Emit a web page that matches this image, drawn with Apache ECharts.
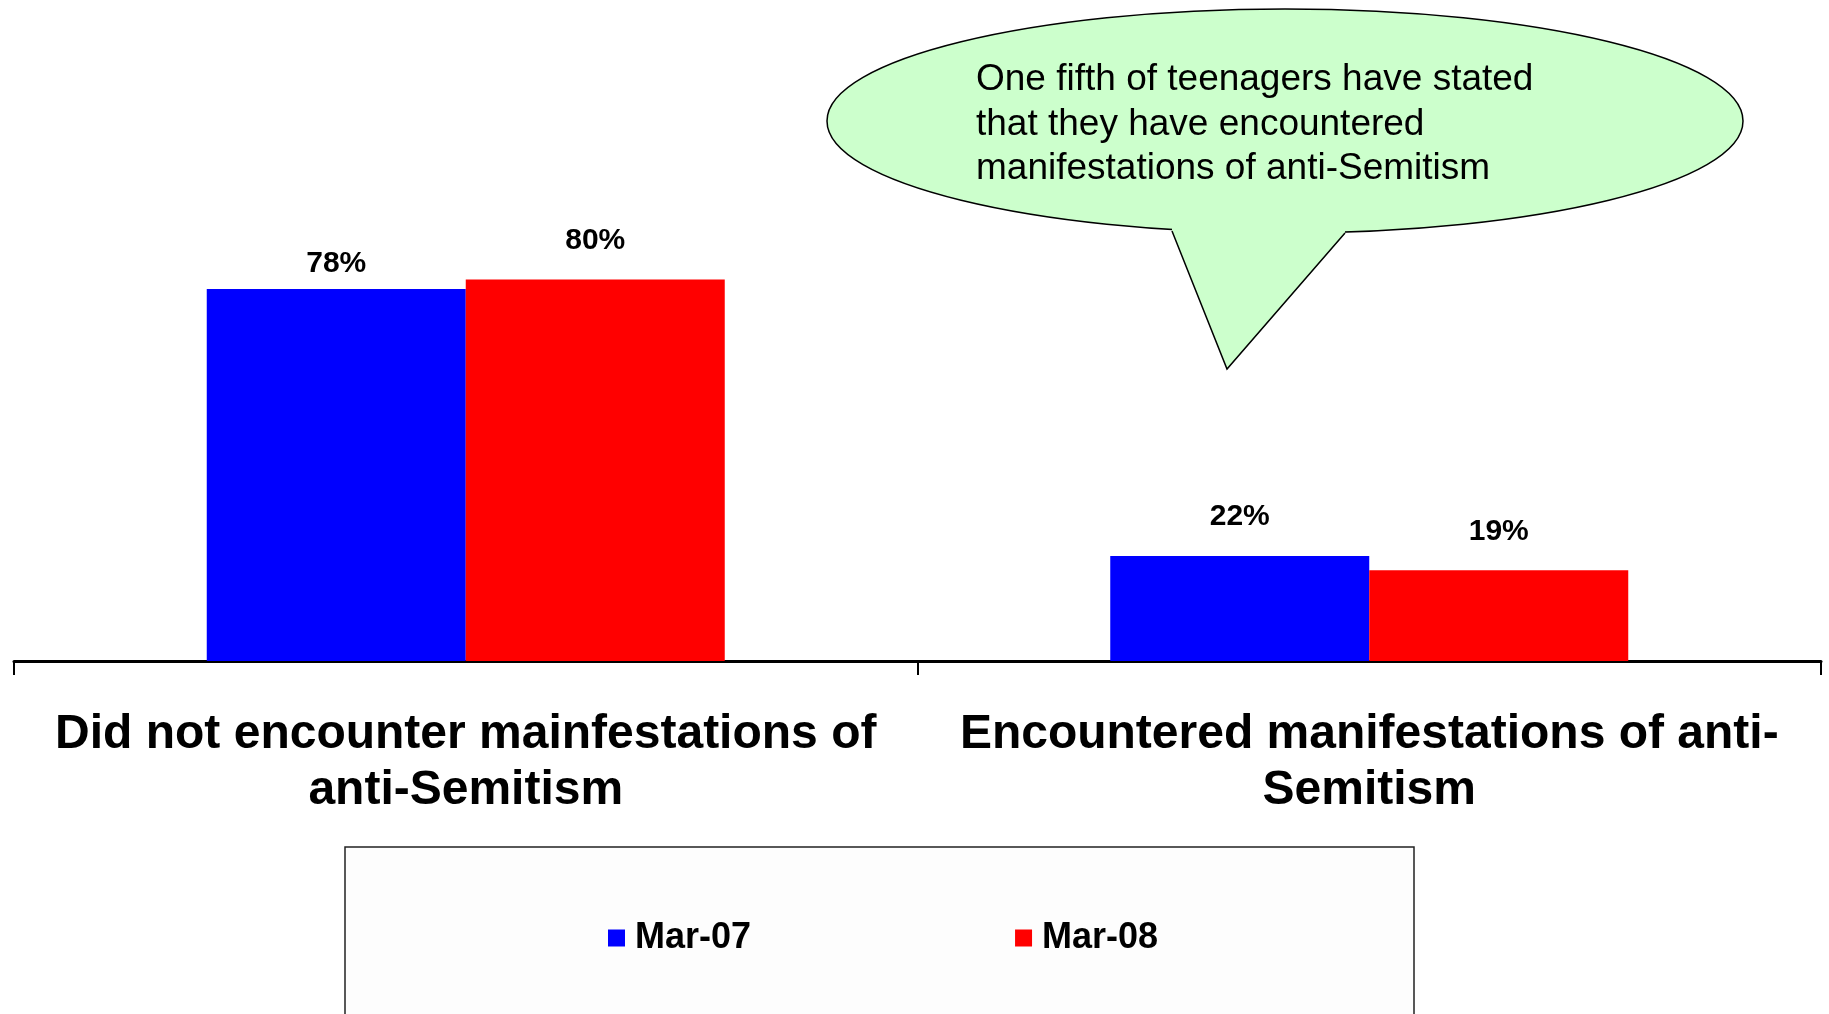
<!DOCTYPE html>
<html>
<head>
    <meta charset="utf-8">
    <title>ECharts</title>
    <script src="https://cdn.jsdelivr.net/npm/echarts@6/dist/echarts.min.js"></script>
    <style>
        html, body { margin: 0; padding: 0; background: #fff; }
        #main { width: 1829px; height: 1014px; }
    </style>
</head>
<body>
    <div id="main"></div>
    <script type="text/javascript">
        // data
        var categories = [
            'Did not encounter mainfestations of\nanti-Semitism',
            'Encountered manifestations of anti-\nSemitism'
        ];
        var seriesNames = ['Mar-07', 'Mar-08'];
        var mar07 = [78, 22];
        var mar08 = [80, 19];
        var calloutText = 'One fifth of teenagers have stated\nthat they have encountered\nmanifestations of anti-Semitism';

        var font = '"Liberation Sans", Arial, sans-serif';
        var myChart = echarts.init(document.getElementById('main'));

        // gap between bar top and its label, the first blue one sits lower
        function labelGap(seriesIdx, i) {
            return (seriesIdx === 0 && i === 0) ? 10 : 24;
        }

        function barSeries(idx, values, color) {
            return {
                name: seriesNames[idx],
                type: 'bar',
                data: values.map(function (v, i) {
                    return { value: v, label: { distance: labelGap(idx, i) } };
                }),
                barWidth: 259,
                barGap: '0%',
                itemStyle: { color: color },
                label: {
                    show: true,
                    position: 'top',
                    formatter: '{c}%',
                    color: '#000',
                    fontFamily: font,
                    fontWeight: 'bold',
                    fontSize: 30
                }
            };
        }

        myChart.setOption({
            animation: false,
            backgroundColor: '#fff',
            grid: { left: 14, right: 8, top: 184, bottom: 353, containLabel: false },
            legend: {
                data: seriesNames,
                left: 603,
                top: 915,
                itemWidth: 17,
                itemHeight: 17,
                itemGap: 264,
                icon: 'rect',
                textStyle: {
                    fontFamily: font,
                    fontWeight: 'bold',
                    fontSize: 36,
                    color: '#000',
                    lineHeight: 36,
                    padding: [0, 0, 0, 5]
                }
            },
            xAxis: {
                type: 'category',
                data: categories,
                axisLine: { lineStyle: { color: '#000', width: 3 } },
                axisTick: { show: true, length: 14, lineStyle: { color: '#000', width: 2 } },
                axisLabel: {
                    interval: 0,
                    margin: 46,
                    color: '#000',
                    fontFamily: font,
                    fontWeight: 'bold',
                    fontSize: 48,
                    lineHeight: 56,
                    align: 'center'
                },
                splitLine: { show: false }
            },
            yAxis: {
                type: 'value',
                min: 0,
                max: 100,
                show: false,
                splitLine: { show: false }
            },
            series: [
                barSeries(0, mar07, '#0000ff'),
                barSeries(1, mar08, '#ff0000')
            ],
            graphic: [
                {
                    type: 'rect',
                    z: -1,
                    shape: { x: 345, y: 847, width: 1069, height: 200 },
                    style: { fill: '#fdfdfd', stroke: '#222', lineWidth: 1.5 }
                },
                {
                    type: 'ellipse',
                    shape: { cx: 1285, cy: 121, rx: 458, ry: 112 },
                    style: { fill: '#ccffcc', stroke: '#000', lineWidth: 1.5 }
                },
                {
                    type: 'polygon',
                    shape: { points: [[1172, 222], [1172, 232], [1227, 369], [1345, 234], [1345, 222]] },
                    style: { fill: '#ccffcc', stroke: null }
                },
                {
                    type: 'polyline',
                    shape: { points: [[1172, 231], [1227, 369], [1345, 233]] },
                    style: { fill: null, stroke: '#000', lineWidth: 1.5 }
                },
                {
                    type: 'text',
                    x: 976,
                    y: 58,
                    style: {
                        text: calloutText,
                        fill: '#000',
                        font: '37px ' + font,
                        lineHeight: 44.5,
                        verticalAlign: 'top'
                    }
                }
            ]
        });
    </script>
</body>
</html>
